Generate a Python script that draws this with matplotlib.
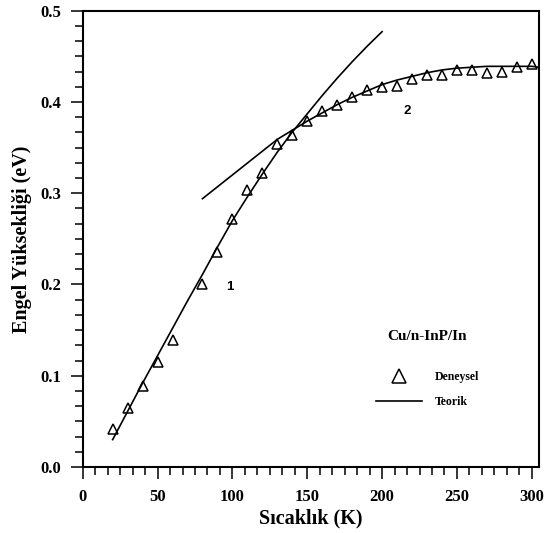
import matplotlib
matplotlib.use("Agg")
import matplotlib.pyplot as plt
from matplotlib.ticker import MultipleLocator

# Deneysel engel yuksekligi (eV) ve sicaklik (K)
T_exp = [20, 30, 40, 50, 60, 80, 90, 100, 110, 120, 130, 140, 150, 160, 170,
         180, 190, 200, 210, 220, 230, 240, 250, 260, 270, 280, 290, 300]
phi_exp = [0.042, 0.065, 0.089, 0.115, 0.139, 0.200, 0.236, 0.272, 0.303, 0.322,
           0.354, 0.364, 0.379, 0.390, 0.397, 0.405, 0.413, 0.416, 0.418, 0.425,
           0.430, 0.429, 0.435, 0.435, 0.432, 0.433, 0.438, 0.442]

# Teorik egri 1 (dusuk sicaklik bolgesi)
T_fit1 = [20, 30, 40, 50, 60, 70, 80, 90, 100, 110, 120, 130, 140, 150, 160,
          170, 180, 190, 200]
phi_fit1 = [0.030, 0.061, 0.092, 0.122, 0.152, 0.182, 0.211, 0.241, 0.270, 0.296,
            0.321, 0.345, 0.367, 0.387, 0.407, 0.426, 0.444, 0.461, 0.477]

# Teorik egri 2 (yuksek sicaklik bolgesi)
T_fit2 = [80, 90, 100, 110, 120, 130, 140, 150, 160, 170, 180, 190, 200, 210,
          220, 230, 240, 250, 260, 270, 280, 290, 300, 305]
phi_fit2 = [0.294, 0.307, 0.320, 0.333, 0.346, 0.359, 0.369, 0.379, 0.388, 0.397,
            0.405, 0.412, 0.419, 0.424, 0.428, 0.432, 0.435, 0.437, 0.438, 0.439,
            0.439, 0.439, 0.439, 0.438]

serif = "Liberation Serif"
sans = "Liberation Sans"

fig = plt.figure(figsize=(5.5, 5.33), dpi=100)
ax = fig.add_axes([0.1504, 0.1238, 0.8301, 0.8562])

line1, = ax.plot(T_fit1, phi_fit1, color="black", lw=1.2)
ax.plot(T_fit2, phi_fit2, color="black", lw=1.2)
pts, = ax.plot(T_exp, phi_exp, linestyle="none", marker="^", markersize=7,
               mfc="none", mec="black", mew=1.1)

ax.text(98.5, 0.197, "1", family=sans, weight="bold", fontsize=9.5,
        ha="center", va="center")
ax.text(216.5, 0.390, "2", family=sans, weight="bold", fontsize=9.5,
        ha="center", va="center")

ax.set_xlim(0, 305)
ax.set_ylim(0, 0.5)
ax.xaxis.set_minor_locator(MultipleLocator(50 / 6))
ax.yaxis.set_minor_locator(MultipleLocator(0.1 / 6))
ax.tick_params(which="both", direction="out", width=1.1, top=False, right=False)
ax.tick_params(which="major", length=8.5)
ax.tick_params(which="minor", length=6)
ax.tick_params(axis="x", which="major", pad=7)
ax.tick_params(axis="y", which="major", pad=7)
for sp in ax.spines.values():
    sp.set_linewidth(1.5)

ax.set_xticks(range(0, 301, 50))
ax.set_xticklabels([str(v) for v in range(0, 301, 50)], family=serif,
                   weight="bold", fontsize=12)
ax.set_yticks([0.0, 0.1, 0.2, 0.3, 0.4, 0.5])
ax.set_yticklabels(["0.0", "0.1", "0.2", "0.3", "0.4", "0.5"], family=serif,
                   weight="bold", fontsize=12)

ax.set_xlabel("Sıcaklık (K)", family=serif, weight="bold", fontsize=14.5)
ax.set_ylabel("Engel Yüksekliği (eV)", family=serif, weight="bold", fontsize=14.5)
ax.xaxis.set_label_coords(0.5, -0.09)
ax.yaxis.set_label_coords(-0.112, 0.5)

leg = ax.legend([pts, line1], ["Deneysel", "Teorik"], title="Cu/n-InP/In",
                loc="center", bbox_to_anchor=(0.755, 0.215), frameon=False,
                markerscale=1.35, handlelength=3.9, handletextpad=1.1,
                labelspacing=1.1, prop={"family": serif, "weight": "bold", "size": 8.5},
                title_fontproperties={"family": serif, "weight": "bold", "size": 11})
leg._legend_box.sep = 20

fig.savefig("out.png", dpi=100)
